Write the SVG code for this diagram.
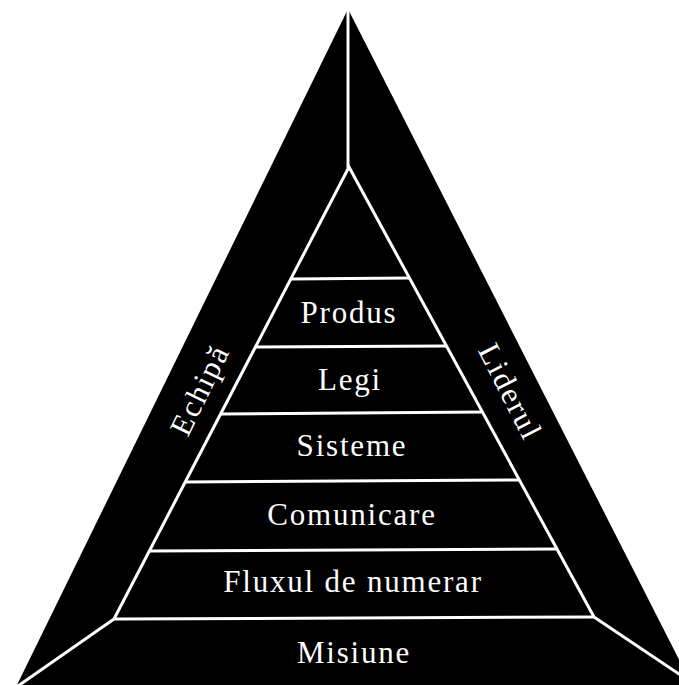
<svg xmlns="http://www.w3.org/2000/svg" width="679" height="685" viewBox="0 0 679 685">
  <style>
    .rule { stroke: #ffffff; stroke-width: 3; fill: none; stroke-linejoin: miter; stroke-linecap: butt; }
    .label { font-family: "Liberation Serif", "Times New Roman", serif; font-size: 31px; fill: #ffffff; text-anchor: middle; letter-spacing: 1.8px; }
  </style>
  <rect width="679" height="685" fill="#ffffff"/>

  <!-- outer pyramid body -->
  <g id="frame">
    <polygon points="348,9 17,685 692,685" fill="#000000"/>
  </g>

  <!-- white rules: spine, inner pyramid, tier dividers, corner struts -->
  <g id="connectors">
    <line class="rule" x1="348" y1="9" x2="348" y2="168"/>
    <polyline class="rule" points="114,619 349,167 594,617"/>
    <line class="rule" x1="291" y1="279" x2="409" y2="278"/>
    <line class="rule" x1="256" y1="347" x2="446" y2="346"/>
    <line class="rule" x1="221" y1="414" x2="483" y2="412"/>
    <line class="rule" x1="185" y1="482" x2="520" y2="480"/>
    <line class="rule" x1="149" y1="551" x2="557" y2="549"/>
    <line class="rule" x1="114" y1="619" x2="594" y2="617"/>
    <line class="rule" x1="114" y1="619" x2="18" y2="686"/>
    <line class="rule" x1="594" y1="617" x2="694" y2="684"/>
  </g>

  <!-- tiers -->
  <g id="tier-produs">
    <text class="label" x="349" y="323">Produs</text>
  </g>
  <g id="tier-legi">
    <text class="label" x="350" y="390">Legi</text>
  </g>
  <g id="tier-sisteme">
    <text class="label" x="352" y="456">Sisteme</text>
  </g>
  <g id="tier-comunicare">
    <text class="label" x="352" y="525">Comunicare</text>
  </g>
  <g id="tier-flux">
    <text class="label" x="353" y="592">Fluxul de numerar</text>
  </g>
  <g id="tier-misiune">
    <text class="label" x="354" y="663">Misiune</text>
  </g>

  <!-- side faces -->
  <g id="side-echipa">
    <text class="label" transform="translate(200,390) rotate(-64)" x="0" y="10">Echipă</text>
  </g>
  <g id="side-liderul">
    <text class="label" transform="translate(510,392) rotate(63)" x="0" y="10">Liderul</text>
  </g>
</svg>
